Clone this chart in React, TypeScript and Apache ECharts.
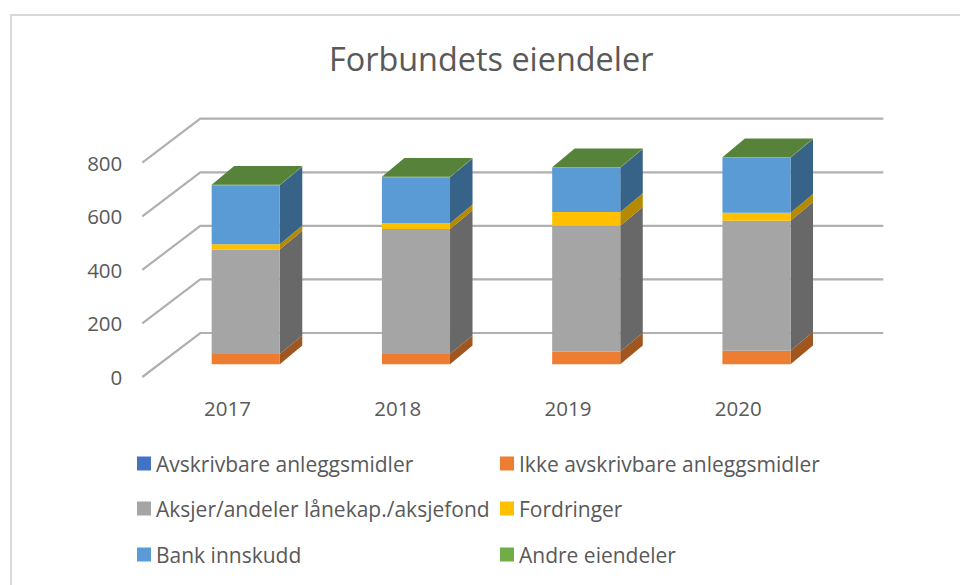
import React, { useEffect, useRef } from "react";
import * as echarts from "echarts";

const categories = ["2017", "2018", "2019", "2020"];
const seriesNames = [
  "Avskrivbare anleggsmidler",
  "Ikke avskrivbare anleggsmidler",
  "Aksjer/andeler lånekap./aksjefond",
  "Fordringer",
  "Bank innskudd",
  "Andre eiendeler",
];
const avskrivbare = [0, 0, 0, 0];
const ikkeAvskrivbare = [38, 38, 48, 51];
const aksjer = [391, 467, 469, 485];
const fordringer = [19, 22, 52, 30];
const bank = [220, 171, 165, 205];
const andre = [2, 2, 2, 2];
const valueTicks = [0, 200, 400, 600, 800];

const allValues = [avskrivbare, ikkeAvskrivbare, aksjer, fordringer, bank, andre];
const frontColors = ["#4472c4", "#ed7d31", "#a5a5a5", "#ffc000", "#5b9bd5", "#70ad47"];
const sideColors = ["#2f5597", "#a0561f", "#686868", "#b58a00", "#376388", "#4d7a30"];
const topColor = "#56823a";

const wall = { dx: 58, dy: 44 };
const barOffset = { dx: 18.3, dy: 12.7 };
const depth = { dx: 22.5, dy: 18.7 };
const legendPos = [
  [137, 453],
  [500, 453],
  [137, 498],
  [500, 498],
  [137, 544],
  [500, 544],
];

function wallRenderer(params: any, api: any) {
  const p = api.coord([0, api.value(1)]);
  const cs = params.coordSys;
  const left = cs.x;
  const right = cs.x + cs.width + 2;
  return {
    type: "polyline",
    shape: {
      points: [
        [left, p[1]],
        [left + wall.dx, p[1] - wall.dy],
        [right + wall.dx, p[1] - wall.dy],
      ],
    },
    style: { stroke: "#b0b0b0", lineWidth: 2.2, fill: "none" },
    silent: true,
  };
}

function barRenderer(index: number) {
  return (_params: any, api: any) => {
    const cat = api.value(0);
    const a = api.coord([cat, api.value(1)]);
    const b = api.coord([cat, api.value(2)]);
    const w = api.size([1, 0])[0] * 0.4;
    const x0 = a[0] - w / 2 + barOffset.dx;
    const x1 = x0 + w;
    const y0 = a[1] - barOffset.dy;
    const y1 = b[1] - barOffset.dy;
    const children: any[] = [
      {
        type: "polygon",
        shape: {
          points: [
            [x1, y0],
            [x1 + depth.dx, y0 - depth.dy],
            [x1 + depth.dx, y1 - depth.dy],
            [x1, y1],
          ],
        },
        style: { fill: sideColors[index] },
      },
      {
        type: "rect",
        shape: { x: x0, y: y1, width: w, height: y0 - y1 },
        style: { fill: frontColors[index] },
      },
    ];
    if (index === allValues.length - 1) {
      children.push({
        type: "polygon",
        shape: {
          points: [
            [x0, y1],
            [x1, y1],
            [x1 + depth.dx, y1 - depth.dy],
            [x0 + depth.dx, y1 - depth.dy],
          ],
        },
        style: { fill: topColor },
      });
    }
    return { type: "group", children };
  };
}

function stackedData(index: number) {
  return categories.map((_, c) => {
    let start = 0;
    for (let s = 0; s < index; s++) start += allValues[s][c];
    return [c, start, start + allValues[index][c]];
  });
}

export default function App() {
  const ref = useRef<HTMLDivElement>(null);
  useEffect(() => {
    document.body.style.margin = "0";
    const chart = echarts.init(ref.current!, null, { renderer: "svg" });
    const font = "Open Sans";
    chart.setOption({
      animation: false,
      backgroundColor: "#ffffff",
      title: {
        text: "Forbundets eiendeler",
        left: 324,
        top: 37,
        textStyle: { fontFamily: font, fontSize: 32.4, fontWeight: "normal", color: "#595959" },
      },
      grid: { left: 142.3, top: 162.7, width: 681, height: 214.3 },
      xAxis: {
        type: "category",
        data: categories,
        axisLine: { show: false },
        axisTick: { show: false },
        axisLabel: { fontFamily: font, fontSize: 20.5, color: "#595959", margin: 20 },
      },
      yAxis: {
        type: "value",
        min: 0,
        max: 800,
        interval: 200,
        axisLine: { show: false },
        axisTick: { show: false },
        splitLine: { show: false },
        axisLabel: { fontFamily: font, fontSize: 20.5, color: "#595959", margin: 20 },
      },
      legend: seriesNames.map((name, i) => ({
        data: [name],
        left: legendPos[i][0],
        top: legendPos[i][1],
        icon: "rect",
        itemWidth: 14,
        itemHeight: 14,
        selectedMode: false,
        padding: 0,
        textStyle: { fontFamily: font, fontSize: 21, color: "#595959" },
      })),
      graphic: [
        {
          type: "rect",
          shape: { x: 11, y: 15, width: 1000, height: 620 },
          style: { fill: "none", stroke: "#d9d9d9", lineWidth: 2 },
          silent: true,
        },
      ],
      series: [
        {
          type: "custom",
          name: "grid",
          z: 1,
          renderItem: wallRenderer,
          data: valueTicks.map((v) => [0, v]),
          encode: { x: 0, y: 1 },
          silent: true,
        },
        ...seriesNames.map((name, i) => ({
          type: "custom",
          name,
          z: 2 + i,
          itemStyle: { color: frontColors[i] },
          renderItem: barRenderer(i),
          data: stackedData(i),
          encode: { x: 0, y: [1, 2] },
        })),
      ],
    });
    return () => chart.dispose();
  }, []);
  return <div ref={ref} style={{ width: 960, height: 585 }} />;
}
